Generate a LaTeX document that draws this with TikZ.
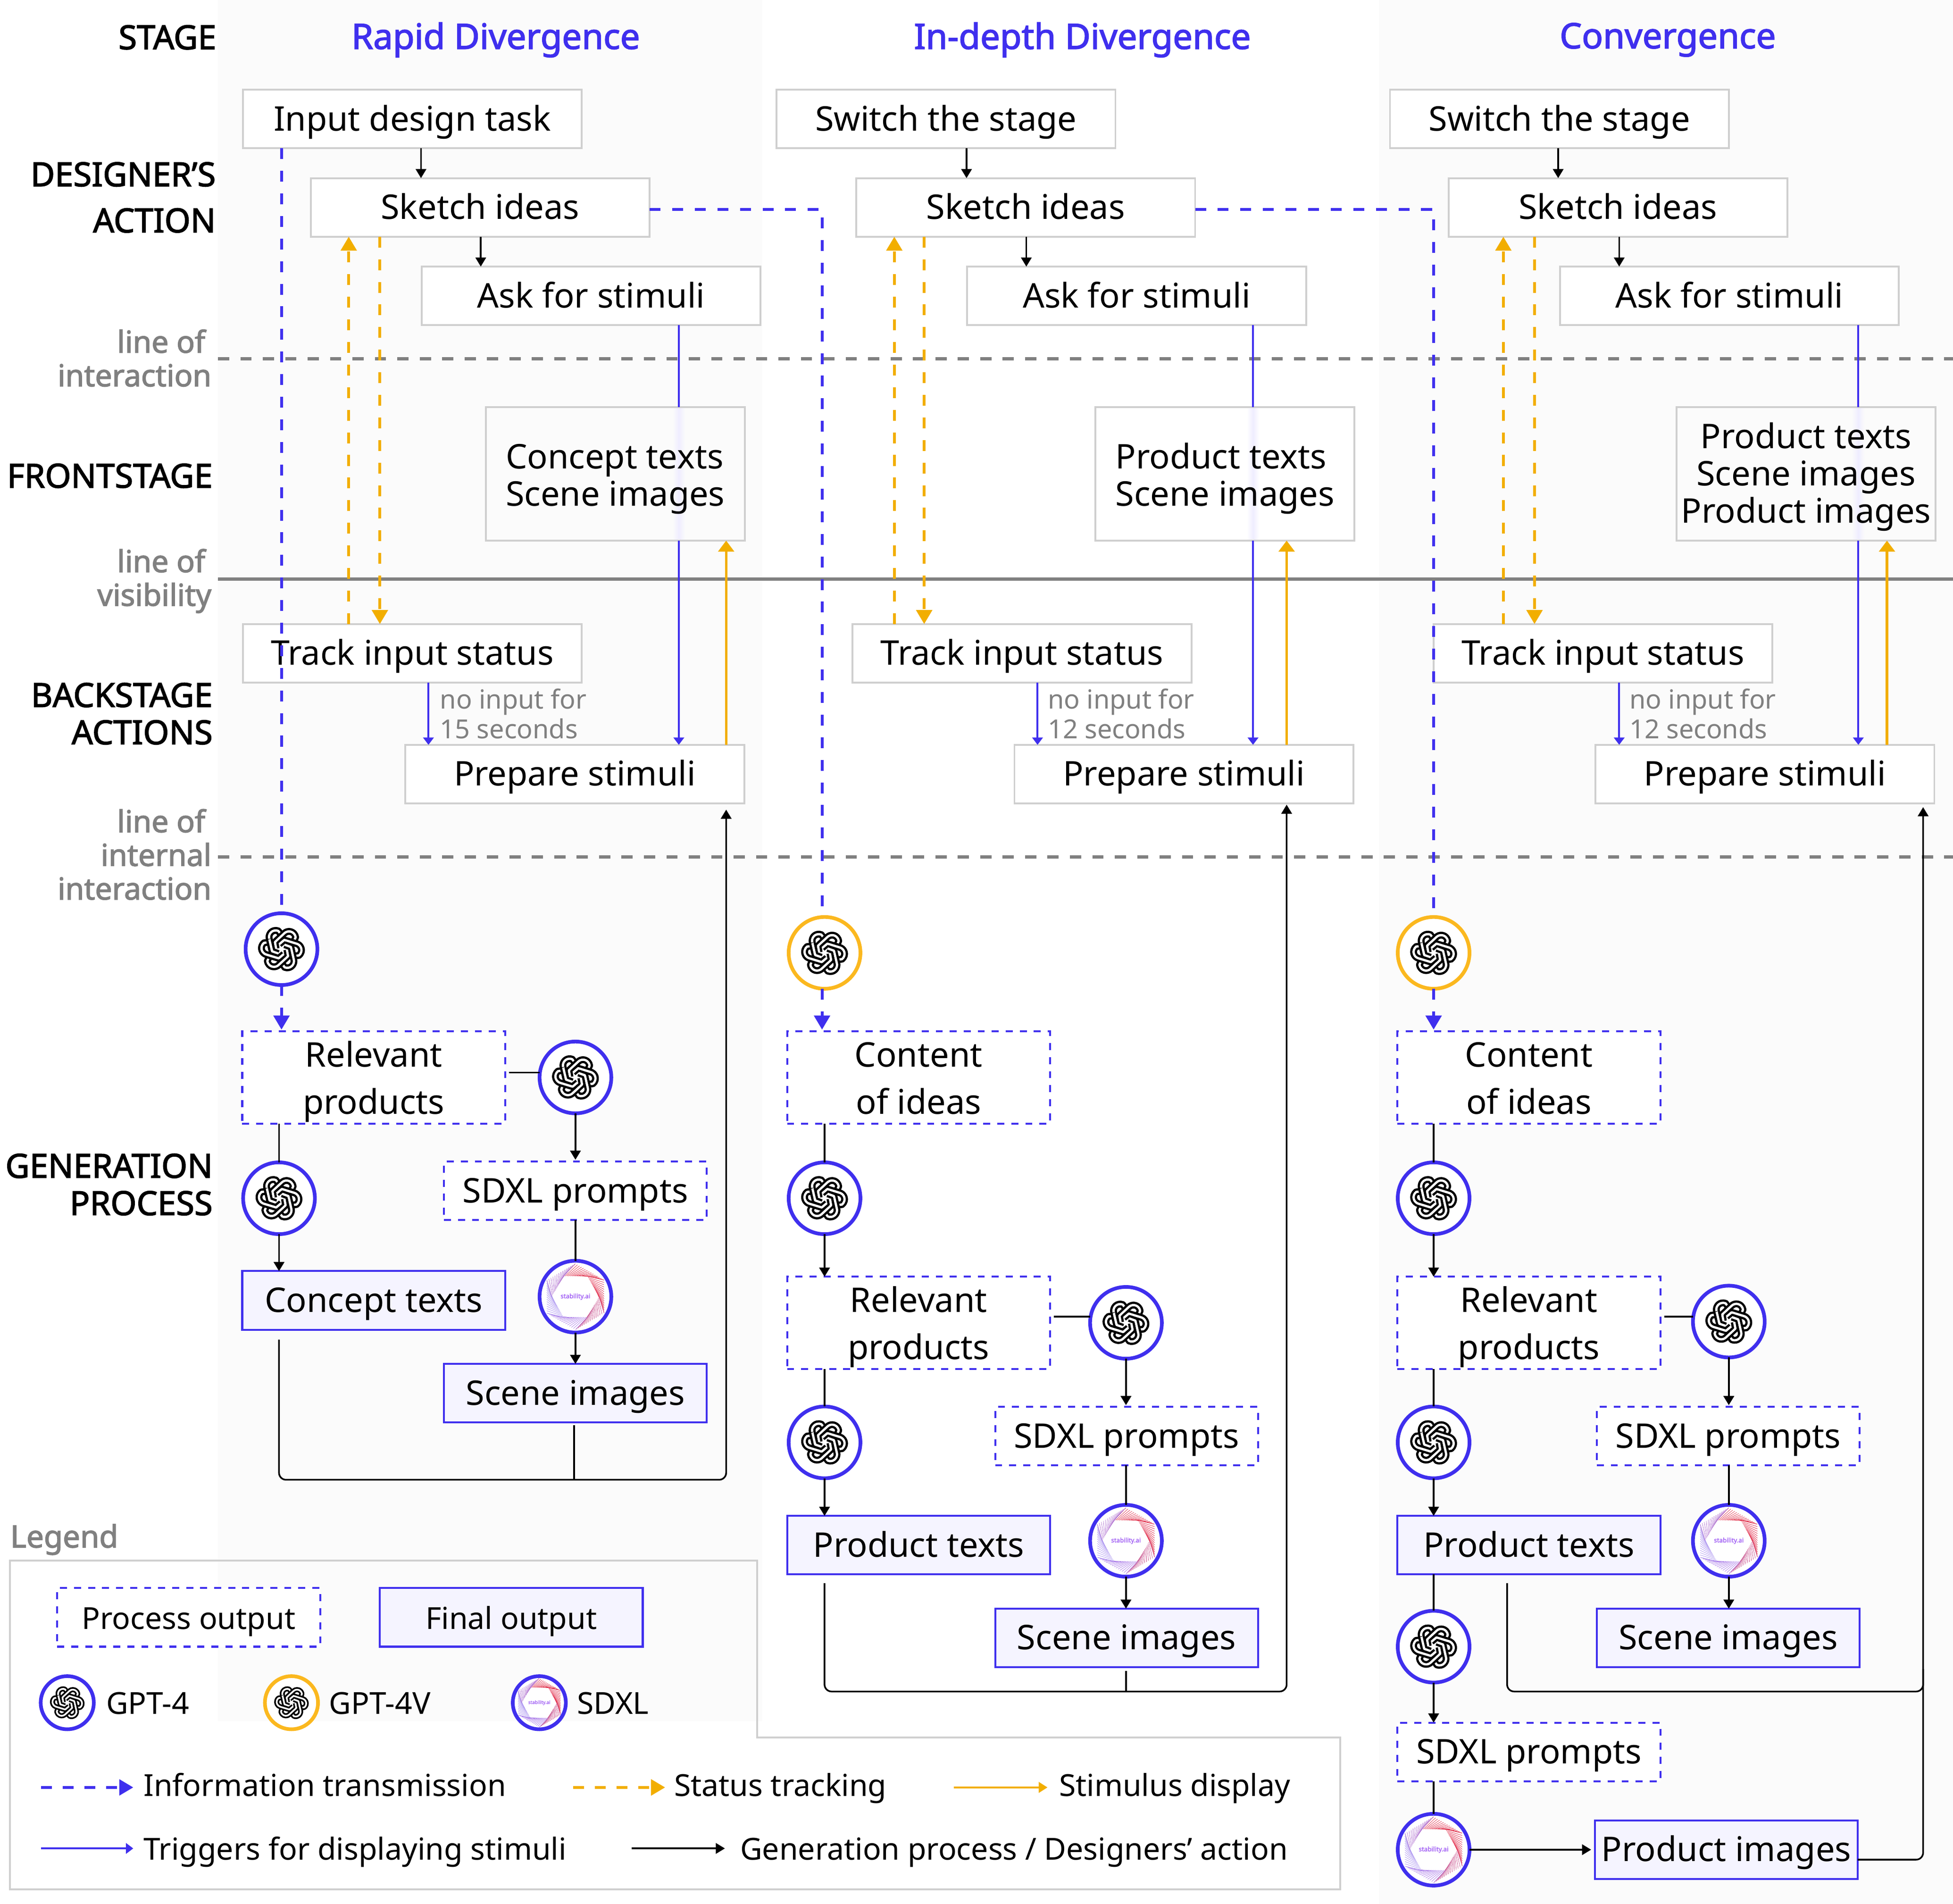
\documentclass[tikz,border=0pt]{standalone}
\usepackage{fontspec}
\setmainfont{Noto Sans}
\newfontfamily\boldsans{Noto Sans}[FakeBold=2.2]
\usepackage{tikz}
\usetikzlibrary{positioning,calc,arrows.meta}

\definecolor{stageblue}{HTML}{3F2FEE}
\definecolor{stagegray}{HTML}{808080}
\definecolor{boxgray}{HTML}{CFCFCF}
\definecolor{bandgray}{HTML}{FBFBFB}
\definecolor{finalfill}{HTML}{F5F4FF}
\definecolor{tracetint}{HTML}{EFEDFF}
\definecolor{statusorange}{HTML}{F2AE00}
\definecolor{ringyellow}{HTML}{FBB81F}
\definecolor{stabpurple}{HTML}{A566F5}

\newcommand{\topgap}[1]{\rule{0pt}{#1}}

\tikzset{
  actbox/.style={draw=boxgray, fill=white, line width=1.05pt, inner sep=0pt, outer sep=0pt,
    minimum width=6.8cm, minimum height=1.175cm, text height=17pt, text depth=3.6pt,
    font=\fontsize{19.4}{23}\selectfont},
  showbox/.style={draw=boxgray, line width=1.05pt, inner sep=0pt, outer sep=0pt, minimum width=5.2cm,
    minimum height=2.675cm, align=left, font=\fontsize{19.4}{21.3}\selectfont},
  procbox/.style={draw=stageblue, fill=white, line width=1.1pt, dash pattern=on 4pt off 4pt, inner sep=0pt,
    outer sep=0pt, minimum width=5.275cm, minimum height=1.175cm, text height=17pt, text depth=3.6pt,
    font=\fontsize{19.4}{23}\selectfont},
  tallbox/.style={draw=stageblue, fill=white, line width=1.1pt, dash pattern=on 4pt off 4pt, inner sep=0pt,
    outer sep=0pt, minimum width=5.275cm, minimum height=1.85cm, align=center, font=\fontsize{19.4}{27}\selectfont},
  finalbox/.style={procbox, solid, fill=finalfill},
  stagehead/.style={text=stageblue, font=\fontsize{20}{23}\boldsans\selectfont},
  rowlabel/.style={anchor=east, align=right, inner sep=0pt, font=\fontsize{19}{21.3}\boldsans\selectfont},
  linelabel/.style={anchor=east, align=right, inner sep=0pt, text=stagegray, font=\fontsize{17.3}{19.2}\boldsans\selectfont},
  waitnote/.style={anchor=west, align=left, inner sep=0pt, text=stagegray, font=\fontsize{15}{17}\selectfont},
  legendtext/.style={anchor=west, inner sep=0pt, text height=16.3pt, text depth=3.5pt, font=\fontsize{17.3}{20}\selectfont},
  gptnode/.style 2 args={circle, draw=#1, fill=white, line width=2.1pt, inner sep=0pt, outer sep=0pt,
    minimum size=#2*1.44cm, path picture={\pic at (path picture bounding box.center) {gptlogo=#2};}},
  sdxlnode/.style={circle, draw=stageblue, fill=white, line width=2.1pt, inner sep=0pt, outer sep=0pt,
    minimum size=#1*1.44cm, path picture={\pic at (path picture bounding box.center) {sdxllogo=#1};}},
  genline/.style={draw=black, line width=.95pt},
  genarrow/.style={genline, -{Triangle[length=5.2pt,width=6pt]}},
  trigline/.style={draw=stageblue, line width=1.05pt},
  trigarrow/.style={trigline, -{Triangle[length=4.2pt,width=6pt]}},
  infoline/.style={draw=stageblue, line width=1.6pt, dash pattern=on 6.2pt off 6.7pt},
  infoarrow/.style={infoline, -{Triangle[length=8pt,width=9pt]}},
  trackarrow/.style={draw=statusorange, line width=1.6pt, dash pattern=on 6.2pt off 6.7pt, -{Triangle[length=8pt,width=9pt]}},
  showarrow/.style={draw=statusorange, line width=1.5pt, -{Triangle[length=6.3pt,width=9pt]}},
  stageline/.style={draw=stagegray, line width=1.8pt},
  pics/gptlogo/.style={code={
    \begin{scope}[x=#1*.45cm, y=#1*.45cm, line join=round, rotate=13, draw=black]
      \foreach \a in {0,-60,-120,-180,-240,-300} {
        \draw[rotate=\a, line width=#1*3.9pt] (-.18,-.16) -- (-.43,0) -- (-.43,.58) arc[start angle=180, end angle=55, radius=.3] -- (.16,.56);
        \draw[rotate=\a, draw=white, line width=#1*1.3pt] (-.18,-.16) -- (-.43,0) -- (-.43,.58) arc[start angle=180, end angle=55, radius=.3] -- (.16,.56);
      }
      \draw[line width=#1*3.9pt] (-.43,.1) -- (-.43,.5);
      \draw[draw=white, line width=#1*1.3pt] (-.43,.05) -- (-.43,.55);
    \end{scope}}},
  pics/sdxllogo/.style={code={
    \begin{scope}[x=#1*.6625cm, y=#1*.6625cm]
      \foreach \a/\c in {90/E0304A, 30/E02040, -30/C8508C, -90/A878E8, -150/A890F0, 150/B070D0} {
        \definecolor{fancolor}{HTML}{\c}
        \foreach \t in {0,.07,...,1}
          \draw[draw=fancolor, line width=.2pt] ($(\a:1)!\t!(\a-60:1)$) -- ($(\a+30:.72)!\t!(\a-30:.72)$);
      }
      \node[scale=#1, inner sep=0pt, text=stabpurple, font=\fontsize{3.6}{4}\boldsans\selectfont] (stabname) {stability.ai};
    \end{scope}}},
}

\begin{document}
\begin{tikzpicture}[x=0.025cm, y=-0.025cm, node distance=0.6cm]

  \useasboundingbox (0,0) rectangle (1568,1528.6);

  % Stage bands
  \fill[bandgray] (175,0) rectangle (612,1382);
  \fill[bandgray] (1107,0) rectangle (1568,1528.6);

  % Lines across the stages
  \draw[stageline, dash pattern=on 6.4pt off 6.4pt] (175,288) -- (1568,288);
  \draw[stageline] (175,465) -- (1568,465);
  \draw[stageline, dash pattern=on 6.4pt off 6.4pt] (175,688) -- (1568,688);

  % Row labels
  \node[rowlabel] (stagelab) at (174,30) {STAGE};
  \node[rowlabel] (designerlab) at (173.5,140) {DESIGNER’S};
  \node[rowlabel] (actionlab) at (173.5,177) {ACTION};
  \node[rowlabel] (frontlab) at (171,382) {FRONTSTAGE};
  \node[rowlabel] (backlab) at (171,573) {BACKSTAGE\\ACTIONS};
  \node[rowlabel] (genlab) at (171,951) {GENERATION\\PROCESS};
  \node[linelabel] (interlab) at (170,287.5) {line of\hspace*{3.5pt}\\interaction};
  \node[linelabel] (vislab) at (170,466.5) {line of\hspace*{3.5pt}\\visibility};
  \node[linelabel] (internlab) at (170,686) {line of\hspace*{3.5pt}\\internal\\interaction};

  % Stage heads
  \node[stagehead] (head1) at (398,32) {Rapid Divergence};
  \node[stagehead] (head2) at (869,32) {In-depth Divergence};
  \node[stagehead] (head3) at (1339,32) {Convergence};

  % Faint traces in the display boxes
  \shade[left color=bandgray, right color=bandgray, middle color=tracetint] (540,327.5) rectangle (550,433.5);
  \shade[left color=white, right color=white, middle color=tracetint] (1001,327.5) rectangle (1011,433.5);
  \shade[left color=bandgray, right color=bandgray, middle color=tracetint] (1487,327.5) rectangle (1497,433.5);

  % Define nodes, first stage
  \node[actbox] (task1) at (331,95.5) {Input design task};
  \node[actbox, below=of task1, xshift=1.3625cm] (sketch1) {Sketch ideas};
  \node[actbox, below=of sketch1, xshift=2.225cm] (ask1) {Ask for stimuli};
  \node[showbox] (show1) at (494,380.5) {\topgap{20pt}Concept texts\\Scene images};
  \node[actbox] (track1) at (331,524.5) {Track input status};
  \node[waitnote] (wait1) at (353,573) {no input for\\15 seconds};
  \node[actbox] (prep1) at (461.5,621.5) {Prepare stimuli};
  \node[gptnode={stageblue}{1}] (gpta1) at (226,762) {};
  \node[tallbox] (rel1) at (300,865) {\topgap{19.5pt}Relevant\\products};
  \node[gptnode={stageblue}{1}] (gptb1) at (462,865) {};
  \node[gptnode={stageblue}{1}] (gptc1) at (224,962) {};
  \node[procbox] (prompt1) at (462,956) {SDXL prompts};
  \node[sdxlnode=1] (sdxl1) at (462,1041) {};
  \node[finalbox] (text1) at (300,1044) {Concept texts};
  \node[finalbox] (img1) at (462,1118.5) {Scene images};

  % Define nodes, second stage
  \node[actbox] (task2) at (759.5,95.5) {Switch the stage};
  \node[actbox, below=of task2, xshift=1.6cm] (sketch2) {Sketch ideas};
  \node[actbox, below=of sketch2, xshift=2.225cm] (ask2) {Ask for stimuli};
  \node[showbox] (show2) at (983.5,380.5) {\topgap{20pt}Product texts\\Scene images};
  \node[actbox] (track2) at (820.5,524.5) {Track input status};
  \node[waitnote] (wait2) at (841,573) {no input for\\12 seconds};
  \node[actbox] (prep2) at (950.5,621.5) {Prepare stimuli};
  \node[gptnode={ringyellow}{1}] (gpta2) at (662,765) {};
  \node[tallbox] (idea2) at (737.5,865) {\topgap{19.5pt}Content\\of ideas\vphantom{p}};
  \node[gptnode={stageblue}{1}] (gptb2) at (662,962) {};
  \node[tallbox] (rel2) at (737.5,1062) {\topgap{19.5pt}Relevant\\products};
  \node[gptnode={stageblue}{1}] (gptc2) at (904,1062) {};
  \node[gptnode={stageblue}{1}] (gptd2) at (662,1158) {};
  \node[procbox] (prompt2) at (904.5,1153) {SDXL prompts};
  \node[sdxlnode=1] (sdxl2) at (904,1237) {};
  \node[finalbox] (text2) at (737.5,1240.5) {Product texts};
  \node[finalbox] (img2) at (904.5,1315) {Scene images};

  % Define nodes, third stage
  \node[actbox] (task3) at (1252,95.5) {Switch the stage};
  \node[actbox, below=of task3, xshift=1.175cm] (sketch3) {Sketch ideas};
  \node[actbox, below=of sketch3, xshift=2.2375cm] (ask3) {Ask for stimuli};
  \node[showbox, align=center] (show3) at (1450,380.5) {\topgap{18pt}Product texts\\Scene images\\Product images};
  \node[actbox] (track3) at (1287,524.5) {Track input status};
  \node[waitnote] (wait3) at (1308,573) {no input for\\12 seconds};
  \node[actbox] (prep3) at (1417,621.5) {Prepare stimuli};
  \node[gptnode={ringyellow}{1}] (gpta3) at (1151,765) {};
  \node[tallbox] (idea3) at (1227.5,865) {\topgap{19.5pt}Content\\of ideas\vphantom{p}};
  \node[gptnode={stageblue}{1}] (gptb3) at (1151,962) {};
  \node[tallbox] (rel3) at (1227.5,1062) {\topgap{19.5pt}Relevant\\products};
  \node[gptnode={stageblue}{1}] (gptc3) at (1388,1061) {};
  \node[gptnode={stageblue}{1}] (gptd3) at (1151,1158) {};
  \node[procbox] (prompt3) at (1387.5,1153) {SDXL prompts};
  \node[sdxlnode=1] (sdxl3) at (1388,1237) {};
  \node[finalbox] (text3) at (1227.5,1240.5) {Product texts};
  \node[finalbox] (img3) at (1387.5,1315) {Scene images};
  \node[gptnode={stageblue}{1}] (gpte3) at (1151,1322) {};
  \node[procbox] (promptb3) at (1227.5,1406.5) {SDXL prompts};
  \node[sdxlnode=1] (sdxlb3) at (1151,1485) {};
  \node[finalbox] (prod3) at (1386,1485) {Product images};

  % Legend
  \draw[boxgray, line width=1.05pt] (8,1253) -- (608,1253) -- (608,1395) -- (1076,1395) -- (1076,1517) -- (8,1517) -- cycle;
  \node[anchor=west, inner sep=0pt, text=stagegray, font=\fontsize{17.6}{20}\boldsans\selectfont] (legendlab) at (8,1236) {Legend};
  \node[procbox, font=\fontsize{17.3}{20}\selectfont] (keyproc) at (151.5,1298.5) {Process output};
  \node[finalbox, font=\fontsize{17.3}{20}\selectfont] (keyfinal) at (410.5,1298.5) {Final output};
  \node[gptnode={stageblue}{.74}] (keygpt) at (54,1367) {};
  \node[legendtext] (keygptlab) at (85,1367) {GPT-4};
  \node[gptnode={ringyellow}{.74}] (keygptv) at (234,1367) {};
  \node[legendtext] (keygptvlab) at (264,1367) {GPT-4V};
  \node[sdxlnode=.74] (keysdxl) at (433,1367) {};
  \node[legendtext] (keysdxllab) at (463,1367) {SDXL};
  \coordinate (infoa) at (33,1435);
  \coordinate (infob) at (107,1435);
  \coordinate (tracka) at (460,1435);
  \coordinate (trackb) at (534,1435);
  \coordinate (showa) at (766,1435);
  \coordinate (showb) at (841,1435);
  \coordinate (triga) at (33,1484);
  \coordinate (trigb) at (107,1484);
  \coordinate (gena) at (507,1484);
  \coordinate (genb) at (582,1484);
  \node[legendtext] (infolab) at (115,1433) {Information transmission};
  \node[legendtext] (tracklab) at (541,1433) {Status tracking};
  \node[legendtext] (showlab) at (850,1433) {Stimulus display};
  \node[legendtext] (triglab) at (115,1484) {Triggers for displaying stimuli};
  \node[legendtext] (genlablegend) at (594,1484) {Generation process / Designers’ action};
  \draw[infoarrow, dash pattern=on 6.2pt off 6.2pt] (infoa) -- (infob);
  \draw[trackarrow, dash pattern=on 6.2pt off 6.2pt] (tracka) -- (trackb);
  \draw[showarrow, line width=1.1pt, -{Triangle[length=5pt,width=6pt]}] (showa) -- (showb);
  \draw[trigarrow] (triga) -- (trigb);
  \draw[genarrow] (gena) -- (genb);

  % Connect the nodes, first stage
  \draw[genarrow] (task1.south -| 338,0) -- (sketch1.north -| 338,0);
  \draw[genarrow] (sketch1.south -| 386,0) -- (ask1.north -| 386,0);
  \draw[infoline] (task1.south -| gpta1) -- (gpta1.north);
  \draw[infoarrow] (gpta1.south) -- ([yshift=1pt]rel1.north -| gpta1);
  \draw[trackarrow] (track1.north -| 280,0) -- (sketch1.south -| 280,0);
  \draw[trackarrow] (sketch1.south -| 305,0) -- (track1.north -| 305,0);
  \draw[trigline] (ask1.south -| 545,0) -- (show1.north -| 545,0);
  \draw[trigarrow] (show1.south -| 545,0) -- (prep1.north -| 545,0);
  \draw[showarrow] (prep1.north -| 583,0) -- (show1.south -| 583,0);
  \draw[trigarrow] (track1.south -| 344,0) -- (prep1.north -| 344,0);
  \draw[genline] ([xshift=.075cm]rel1.east |- 0,861) -- (gptb1.west |- 0,861);
  \draw[genarrow] (gptb1.south) -- ([yshift=1pt]prompt1.north);
  \draw[genline] (prompt1.south) -- (sdxl1.north);
  \draw[genarrow] (sdxl1.south) -- (img1.north);
  \draw[genline] (rel1.south -| gptc1) -- (gptc1.north);
  \draw[genarrow] (gptc1.south) -- (text1.north -| gptc1);
  \draw[genarrow, rounded corners=4pt] ([yshift=-.2cm]text1.south -| gptc1) -- (224,1188) -- (583,1188) -- ([yshift=-.125cm]prep1.south -| 583,0);
  \draw[genline] ([yshift=-.05cm]img1.south -| 461,0) -- (461,1188);

  % Connect the nodes, second stage
  \draw[genarrow] (task2.south -| 776,0) -- (sketch2.north -| 776,0);
  \draw[genarrow] (sketch2.south -| 824,0) -- (ask2.north -| 824,0);
  \draw[infoline] (sketch1.east |- 0,168) -- (660,168) -- (gpta2.north -| 660,0);
  \draw[infoarrow] (gpta2.south -| 660,0) -- ([yshift=1pt]idea2.north -| 660,0);
  \draw[trackarrow] (track2.north -| 718,0) -- (sketch2.south -| 718,0);
  \draw[trackarrow] (sketch2.south -| 742,0) -- (track2.north -| 742,0);
  \draw[trigline] (ask2.south -| 1006,0) -- (show2.north -| 1006,0);
  \draw[trigarrow] (show2.south -| 1006,0) -- (prep2.north -| 1006,0);
  \draw[showarrow] (prep2.north -| 1033,0) -- (show2.south -| 1033,0);
  \draw[trigarrow] (track2.south -| 833,0) -- (prep2.north -| 833,0);
  \draw[genline] (idea2.south -| gptb2) -- (gptb2.north);
  \draw[genarrow] (gptb2.south) -- (rel2.north -| gptb2);
  \draw[genline] ([xshift=.075cm]rel2.east |- 0,1057) -- (gptc2.west |- 0,1057);
  \draw[genarrow] (gptc2.south) -- ([yshift=1pt]prompt2.north -| gptc2);
  \draw[genline] (prompt2.south -| sdxl2) -- (sdxl2.north);
  \draw[genarrow] (sdxl2.south) -- (img2.north -| sdxl2);
  \draw[genline] (rel2.south -| gptd2) -- (gptd2.north);
  \draw[genarrow] (gptd2.south) -- (text2.north -| gptd2);
  \draw[genarrow, rounded corners=4pt] ([yshift=-.175cm]text2.south -| gptd2) -- (662,1358) -- (1033,1358) -- ([yshift=-.025cm]prep2.south -| 1033,0);
  \draw[genline] ([yshift=-.075cm]img2.south -| 904,0) -- (904,1358);

  % Connect the nodes, third stage
  \draw[genarrow] (task3.south -| 1251,0) -- (sketch3.north -| 1251,0);
  \draw[genarrow] (sketch3.south -| 1300,0) -- (ask3.north -| 1300,0);
  \draw[infoline] (sketch2.east |- 0,168) -- (1151,168) -- (gpta3.north);
  \draw[infoarrow] (gpta3.south) -- ([yshift=1pt]idea3.north -| gpta3);
  \draw[trackarrow] (track3.north -| 1207,0) -- (sketch3.south -| 1207,0);
  \draw[trackarrow] (sketch3.south -| 1232,0) -- (track3.north -| 1232,0);
  \draw[trigline] (ask3.south -| 1492,0) -- (show3.north -| 1492,0);
  \draw[trigarrow] (show3.south -| 1492,0) -- (prep3.north -| 1492,0);
  \draw[showarrow] (prep3.north -| 1515,0) -- (show3.south -| 1515,0);
  \draw[trigarrow] (track3.south -| 1300,0) -- (prep3.north -| 1300,0);
  \draw[genline] (idea3.south -| gptb3) -- (gptb3.north);
  \draw[genarrow] (gptb3.south) -- (rel3.north -| gptb3);
  \draw[genline] ([xshift=.075cm]rel3.east |- 0,1057) -- (gptc3.west |- 0,1057);
  \draw[genarrow] (gptc3.south) -- ([yshift=1pt]prompt3.north -| gptc3);
  \draw[genline] (prompt3.south -| sdxl3) -- (sdxl3.north);
  \draw[genarrow] (sdxl3.south) -- (img3.north -| sdxl3);
  \draw[genline] (rel3.south -| gptd3) -- (gptd3.north);
  \draw[genarrow] (gptd3.south) -- (text3.north -| gptd3);
  \draw[genline] (text3.south -| gpte3) -- (gpte3.north);
  \draw[genarrow] (gpte3.south) -- (promptb3.north -| gpte3);
  \draw[genline] (promptb3.south -| sdxlb3) -- (sdxlb3.north);
  \draw[genarrow] (sdxlb3.east) -- ([xshift=-.075cm]prod3.west);
  \draw[genline, rounded corners=4pt] ([yshift=-.175cm]text3.south -| 1210,0) -- (1210,1358) -- (1544,1358) -- (1544,1340);
  \draw[genarrow, rounded corners=4pt] (prod3.east |- 0,1493) -- (1544,1493) -- ([yshift=-.075cm]prep3.south -| 1544,0);

\end{tikzpicture}
\end{document}
